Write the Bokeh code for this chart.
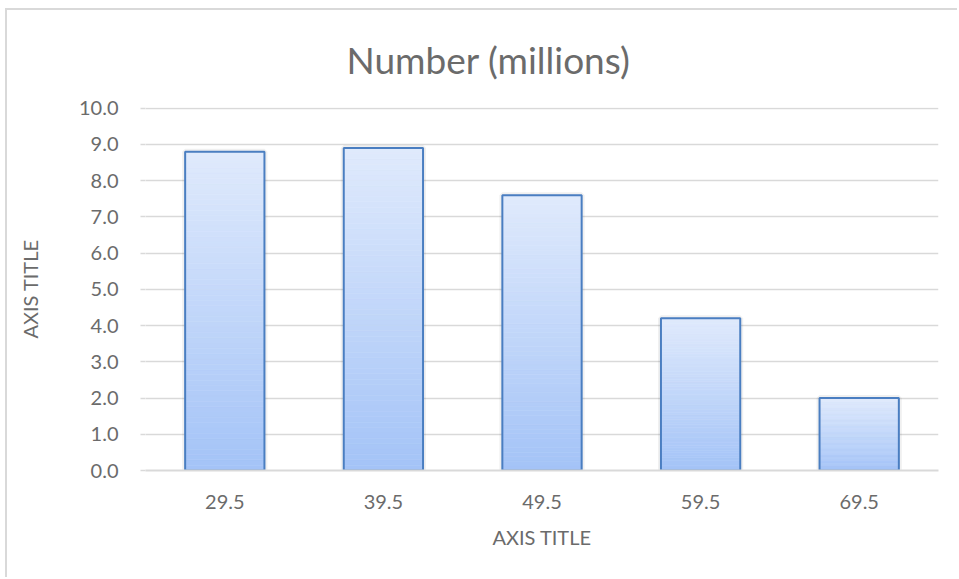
from bokeh.plotting import figure
from bokeh.models import Title, PrintfTickFormatter
from bokeh.embed import file_html
from bokeh.resources import INLINE

categories = ["29.5", "39.5", "49.5", "59.5", "69.5"]
values = [8.8, 8.9, 7.6, 4.2, 2.0]
y_ticks = [0, 1, 2, 3, 4, 5, 6, 7, 8, 9, 10]

title_text = "Number (millions)"
x_title = "AXIS TITLE"
y_title = "AXIS TITLE"

FONT = "Lato"
TEXT = "#6b6b6b"
GRID = "#d9d9d9"
TOP_RGB = (223, 234, 252)
BOT_RGB = (164, 195, 247)
OUTLINE = "#4a7ec1"
BAR_W = 0.5
N_SLICES = 60

# page offset of the chart area border (left, top) and its width
OX, OY, BW = 5, 8, 2

p = figure(x_range=categories, y_range=(0, 10.02),
           width=959 - OX - BW, height=579 - OY - BW,
           output_backend="svg", toolbar_location=None,
           min_border_left=145 - OX - BW, min_border_right=21,
           min_border_top=107 - OY - BW, min_border_bottom=109)
p.margin = (OY, 0, 0, OX)
p.styles = {"border-top": "%dpx solid %s" % (BW, GRID),
            "border-left": "%dpx solid %s" % (BW, GRID)}
p.x_range.range_padding = 0
p.outline_line_color = None
p.background_fill_color = "white"
p.border_fill_color = "white"

# gradient bars built from the data as stacked slices
xs, bots, tops, cols = [], [], [], []
for c, v in zip(categories, values):
    for k in range(N_SLICES):
        t = (k + 0.5) / N_SLICES
        r = round(BOT_RGB[0] + (TOP_RGB[0] - BOT_RGB[0]) * t)
        g = round(BOT_RGB[1] + (TOP_RGB[1] - BOT_RGB[1]) * t)
        b = round(BOT_RGB[2] + (TOP_RGB[2] - BOT_RGB[2]) * t)
        xs.append(c)
        bots.append(v * k / N_SLICES)
        tops.append(v * (k + 1) / N_SLICES)
        cols.append("#%02x%02x%02x" % (r, g, b))

# soft shadow
p.vbar(x=categories, top=values, width=BAR_W, bottom=0, fill_color=None,
       line_color="#000000", line_alpha=0.06, line_width=6)
p.vbar(x=xs, top=tops, bottom=bots, width=BAR_W, fill_color=cols,
       line_color=cols, line_width=0.6)
p.vbar(x=categories, top=values, width=BAR_W, bottom=0, fill_color=None,
       line_color=OUTLINE, line_width=2)

# axes
p.yaxis.ticker = y_ticks
p.yaxis.formatter = PrintfTickFormatter(format="%.1f")
p.yaxis.axis_line_color = None
p.yaxis.major_tick_line_color = GRID
p.yaxis.major_tick_line_width = 1.5
p.yaxis.major_tick_out = 5
p.yaxis.major_tick_in = 0
p.yaxis.minor_tick_line_color = None
p.yaxis.major_label_standoff = 22
p.yaxis.major_label_text_font = FONT
p.yaxis.major_label_text_font_size = "20px"
p.yaxis.major_label_text_color = TEXT
p.yaxis.axis_label = y_title
p.yaxis.axis_label_text_font = FONT
p.yaxis.axis_label_text_font_size = "20px"
p.yaxis.axis_label_text_font_style = "normal"
p.yaxis.axis_label_text_color = TEXT
p.yaxis.axis_label_standoff = 34

p.xaxis.axis_line_color = GRID
p.xaxis.axis_line_width = 2
p.xaxis.major_tick_line_color = None
p.xaxis.minor_tick_line_color = None
p.xaxis.major_label_standoff = 18
p.xaxis.major_label_text_font = FONT
p.xaxis.major_label_text_font_size = "20px"
p.xaxis.major_label_text_color = TEXT
p.xaxis.axis_label = x_title
p.xaxis.axis_label_text_font = FONT
p.xaxis.axis_label_text_font_size = "20px"
p.xaxis.axis_label_text_font_style = "normal"
p.xaxis.axis_label_text_color = TEXT
p.xaxis.axis_label_standoff = 13

p.xgrid.grid_line_color = None
p.ygrid.grid_line_color = GRID
p.ygrid.grid_line_width = 1.5

p.title = Title(text=title_text, align="left", offset=201,
                vertical_align="top",
                text_font=FONT, text_font_size="37px",
                text_font_style="normal", text_color=TEXT, standoff=48)

open("out.html", "w").write(file_html(p, INLINE))
